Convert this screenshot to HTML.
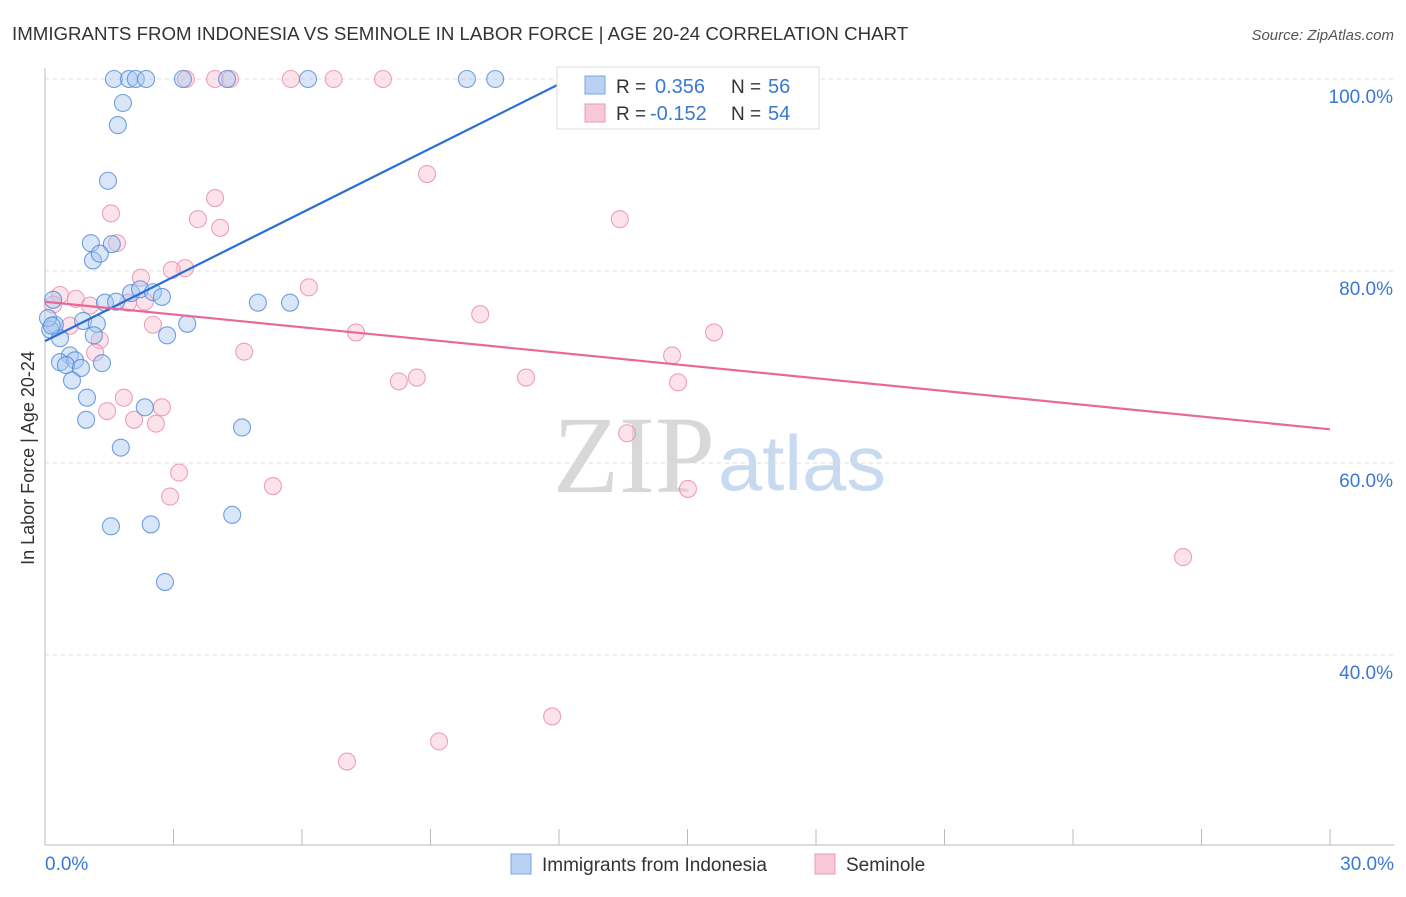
<!DOCTYPE html>
<html><head><meta charset="utf-8"><style>
body{margin:0;background:#fff;font-family:"Liberation Sans",sans-serif}
svg text{font-family:"Liberation Sans",sans-serif}
</style></head><body>
<svg id="chart" width="1406" height="892" viewBox="0 0 1406 892" xmlns="http://www.w3.org/2000/svg">
<text x="12" y="40" font-size="18.7" fill="#333">IMMIGRANTS FROM INDONESIA VS SEMINOLE IN LABOR FORCE | AGE 20-24 CORRELATION CHART</text>
<text x="1394" y="40" font-size="15" fill="#555" text-anchor="end" font-style="italic">Source: ZipAtlas.com</text>
<text x="553" y="492" font-size="110" fill="#d8d8d8" style="font-family:'Liberation Serif',serif" textLength="162" lengthAdjust="spacingAndGlyphs">ZIP</text>
<text x="718" y="490" font-size="78" fill="#c8daf0" textLength="168" lengthAdjust="spacingAndGlyphs">atlas</text>
<text transform="translate(34,458) rotate(-90)" font-size="18" fill="#333" text-anchor="middle">In Labor Force | Age 20-24</text>
<g id="grid"></g><g id="pts"></g><g id="lines"></g>
<g>
<rect x="557" y="67" width="262" height="62" fill="#fff" stroke="#ddd"/>
<rect x="585" y="76" width="20" height="18" fill="#b9d2f3" stroke="#7aa6e0"/>
<rect x="585" y="104" width="20" height="18" fill="#f8c8d6" stroke="#eb9ab4"/>
<text x="616" y="93" font-size="19" fill="#333">R =</text>
<text x="655" y="93" font-size="20" fill="#3a78d6">0.356</text>
<text x="731" y="93" font-size="19" fill="#333">N =</text>
<text x="768" y="93" font-size="20" fill="#3a78d6">56</text>
<text x="616" y="120" font-size="19" fill="#333">R =</text>
<text x="650" y="120" font-size="20" fill="#3a78d6">-0.152</text>
<text x="731" y="120" font-size="19" fill="#333">N =</text>
<text x="768" y="120" font-size="20" fill="#3a78d6">54</text>
</g>
<g>
<rect x="511" y="854" width="20" height="20" fill="#b9d2f3" stroke="#7aa6e0"/>
<text x="542" y="871" font-size="19" fill="#333">Immigrants from Indonesia</text>
<rect x="815" y="854" width="20" height="20" fill="#f8c8d6" stroke="#eb9ab4"/>
<text x="846" y="871" font-size="19" fill="#333">Seminole</text>
</g>
</svg>
<script>
const yTicks=[40,60,80,100];
const yTickLabels=["40.0%","60.0%","80.0%","100.0%"];
const xTickLabels=["0.0%","30.0%"];
const blueX=[1.61,1.96,2.12,2.36,3.22,4.25,6.14,9.85,10.51,1.82,1.70,1.47,1.07,1.56,1.12,1.28,0.19,1.40,1.66,2.01,2.22,2.52,2.73,4.97,5.72,0.23,0.12,0.89,1.21,3.32,2.85,0.35,1.14,0.58,0.35,0.70,1.33,0.49,0.84,0.63,0.98,2.33,0.96,4.60,1.77,4.37,1.54,2.47,2.80,0.07,0.16];
const blueY=[100,100,100,100,100,100,100,100,100,97.5,95.2,89.4,82.9,82.8,81.1,81.8,77.0,76.7,76.8,77.7,78.1,77.8,77.3,76.7,76.7,74.4,73.9,74.8,74.5,74.5,73.3,73.0,73.3,71.2,70.5,70.7,70.4,70.2,69.9,68.6,66.8,65.8,64.5,63.7,61.6,54.6,53.4,53.6,47.6,75.1,74.3];
const pinkX=[3.29,3.97,4.32,5.74,6.74,7.89,16.74,8.92,3.97,3.57,4.09,13.42,1.54,1.68,3.27,2.96,2.24,6.16,0.35,0.72,1.05,1.94,2.33,0.19,10.16,2.52,0.58,7.26,15.62,1.28,4.65,1.17,14.64,8.26,8.68,11.23,14.78,1.84,1.45,2.73,2.08,2.59,13.59,3.13,5.32,2.92,15.01,26.57,11.84,9.20,7.05];
const pinkY=[100,100,100,100,100,100,100,90.1,87.6,85.4,84.5,85.4,86.0,82.9,80.3,80.1,79.3,78.3,77.5,77.1,76.4,76.7,76.8,76.5,75.5,74.4,74.3,73.6,73.6,72.8,71.6,71.5,71.2,68.5,68.9,68.9,68.4,66.8,65.4,65.8,64.5,64.1,63.1,59.0,57.6,56.5,57.3,50.2,33.6,31.0,28.9];
const blueTrend=[72.7,2.23];
const pinkTrend=[76.8,-0.443];
const NS="http://www.w3.org/2000/svg";
const sx=v=>45+v/30*1285;
const sy=v=>79+(100-v)/20*192;
function mk(t,a,p){const e=document.createElementNS(NS,t);for(const k in a)e.setAttribute(k,a[k]);p.appendChild(e);return e;}
const grid=document.getElementById('grid');
yTicks.forEach((t,i)=>{
 const l=mk('line',{x1:45,x2:1394,y1:sy(t),y2:sy(t),stroke:'#ddd','stroke-dasharray':'4,4'},grid);
 
 
 const tx=mk('text',{x:1393,y:sy(t)+24,'font-size':19,fill:'#3a78d6','text-anchor':'end'},grid);
 tx.textContent=yTickLabels[i];
 
 
});
const ax=mk('line',{x1:45,x2:45,y1:68,y2:845,stroke:'#bbb'},grid);


const bx=mk('line',{x1:45,x2:1394,y1:845,y2:845,stroke:'#bbb'},grid);


for(let i=0;i<=10;i++){const t=mk('line',{x1:sx(i*3),x2:sx(i*3),y1:829,y2:845,stroke:'#bbb'},grid);
 
 }
[[0,'start',45],[30,'end',1394]].forEach((d,i)=>{const t=mk('text',{x:d[2],y:870,'font-size':19,fill:'#3a78d6','text-anchor':d[1]},grid);t.textContent=xTickLabels[i];
 
 });
const pts=document.getElementById('pts');
function draw(X,Y,fill,stroke,name){X.forEach((x,i)=>{const c=mk('circle',{cx:sx(x),cy:sy(Y[i]),r:8.5,fill:fill,'fill-opacity':0.45,stroke:stroke,'stroke-width':1.1,'stroke-opacity':0.8},pts);
 
 });}
draw(pinkX,pinkY,'#f8c0d0','#eb8aaa','seminole-point');
draw(blueX,blueY,'#a8c8f0','#4f8ad8','indonesia-point');
const lines=document.getElementById('lines');
const bxEnd=(100-blueTrend[0])/blueTrend[1];
const bl=mk('line',{x1:sx(0),y1:sy(blueTrend[0]),x2:sx(bxEnd),y2:sy(100),stroke:'#2a6fd4','stroke-width':2.2},lines);


const pl=mk('line',{x1:sx(0),y1:sy(pinkTrend[0]),x2:sx(30),y2:sy(pinkTrend[0]+30*pinkTrend[1]),stroke:'#e8689a','stroke-width':2.2},lines);


</script>
</body></html>
